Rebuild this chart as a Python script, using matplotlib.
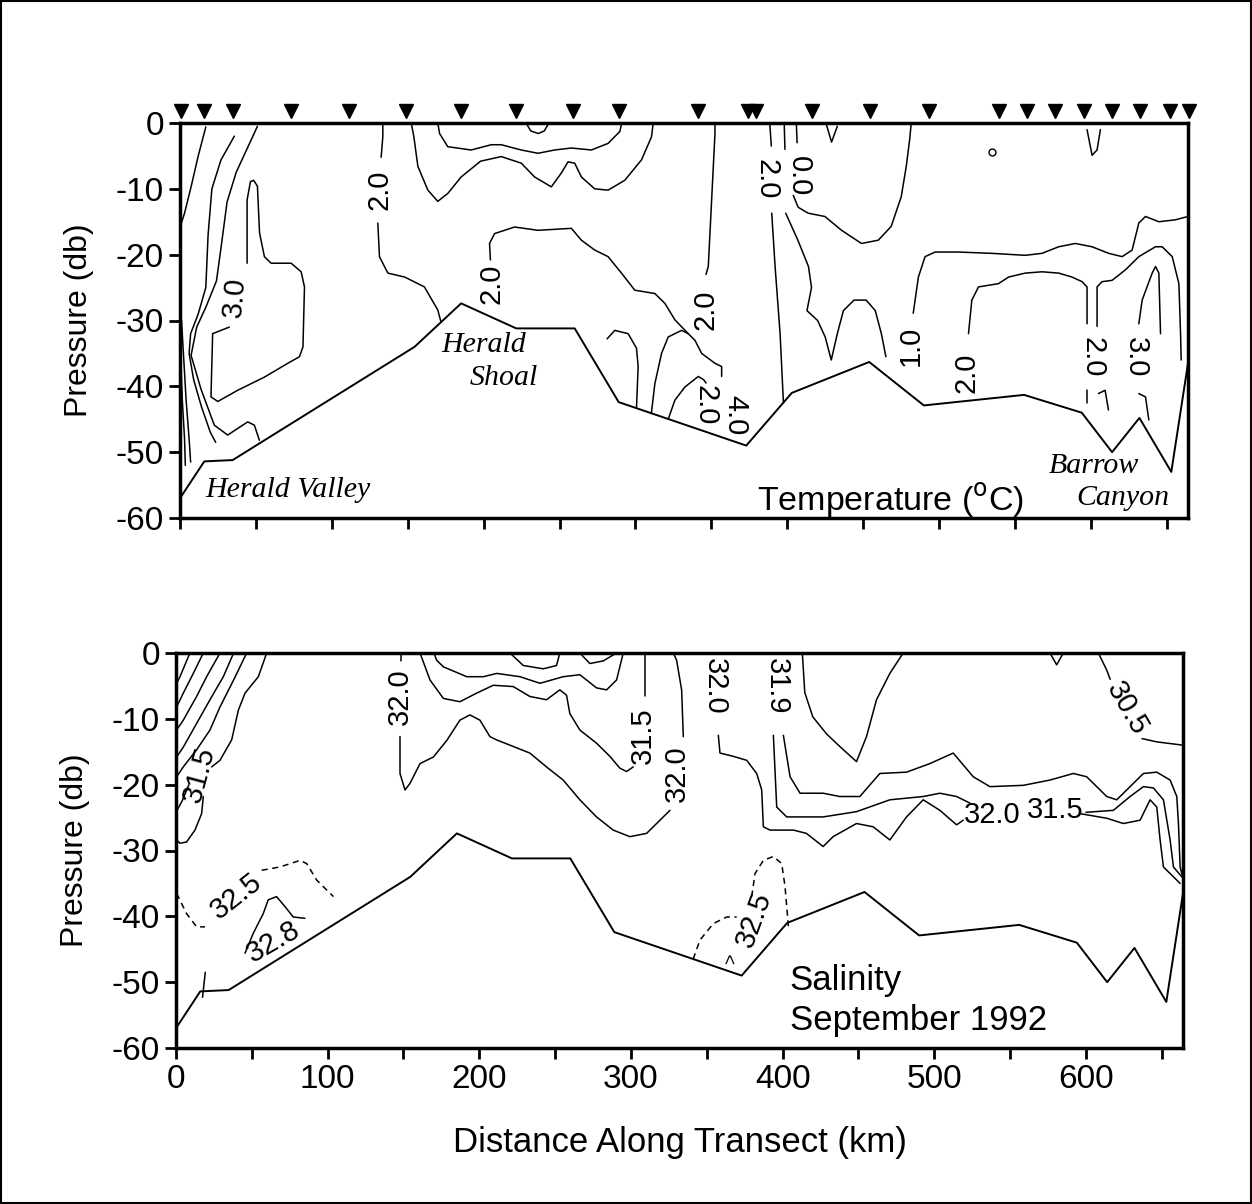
import numpy as np
import matplotlib
matplotlib.use("Agg")
import matplotlib.pyplot as plt
from matplotlib.patches import Rectangle

plt.rcParams['font.family'] = ['Liberation Sans', 'DejaVu Sans']
plt.rcParams['axes.unicode_minus'] = False

# ---- data (distance km, pressure db) ----
stations_km = [0.7, 15.8, 34.9, 73.2, 111.4, 149, 185.2, 221.5, 259, 289.4, 341.5,
               374.4, 379.6, 416, 454.2, 493.1, 539.2, 557.7, 576.1, 595.3, 613.7,
               632.1, 651.9, 664.5]

bath_km = [0, 16, 34.7, 154.5, 185.2, 221.5, 260, 289, 373, 403, 454, 490, 556, 594, 614, 632, 653, 665]
bath_db = [-57, -51.4, -51.2, -34, -27.4, -31.2, -31.2, -42.4, -49, -41, -36.3, -42.9, -41.3, -44, -50, -44.8, -53, -35]

# temperature section
t_left1 = [(17, -0.6), (12, -5), (7.5, -9.5), (3, -13.7), (0.5, -15.5)]
t_left2 = [(35.8, -2), (27, -5.6), (21, -10), (18.5, -17), (17, -25), (12, -29), (7, -32),
           (6, -35), (9, -39), (14, -43), (20, -47), (23.5, -48.5)]
t_left3 = [(51, -0.5), (44, -4), (37, -7.5), (31, -12), (27, -19), (24, -24), (17, -28),
           (11, -31), (7.3, -35.3), (13.8, -40.4), (22.6, -45.9), (31.4, -47.4), (44.6, -45.4),
           (49, -45.9), (52.3, -48.2)]
t_left4 = [(1, -30), (2.5, -36), (4, -42), (6, -48), (7, -51.5)]
t_left5 = [(0.5, -36), (1.5, -42), (3, -48), (3.5, -52)]
t_30 = [(44.2, -21.3), (44.2, -11.7), (46.4, -8.9), (48.5, -8.7), (51, -9.6), (52.4, -16.7),
        (55.6, -20.3), (60, -21.3), (73.2, -21.3), (79.8, -22.6), (82, -24.9), (81, -34),
        (78.7, -35.5), (71, -36.5), (55.6, -38.6), (38, -40.6), (24.9, -42.3), (20.4, -41.6),
        (21.5, -32), (32.5, -31)]
t_20a_top = [(133.6, 0), (133.6, -2.1), (132.5, -5.2)]
t_20a = [(130.3, -15.2), (131.4, -20.3), (136.9, -22.8), (148, -23.4), (161, -24.9),
         (169.8, -28.4), (172, -30.3)]
t_up1 = [(152.3, 0), (154, -2), (156.7, -6.6), (163.3, -10.2), (169.8, -11.9), (176.4, -10.7),
         (185.2, -8.2), (198, -5.8), (211.6, -5.1), (224.8, -6.1), (233.6, -8.2), (244.6, -9.7),
         (251.2, -7.6), (255.6, -5.9), (260, -6.1), (264.4, -8.2), (273.2, -10), (282, -10.2),
         (293, -8.7), (304, -5.6), (310.6, -2.1), (311.7, 0)]
t_up2 = [(169.8, 0), (171, -1.6), (176.4, -3.6), (191.8, -4.1), (205, -3.3), (211.6, -3.3),
         (224.8, -4.1), (235.8, -4.6), (246.8, -4.1), (257.8, -3.8), (271, -4.1), (282, -3.1),
         (289.7, -1.3), (291, 0)]
t_cup = [(228, 0), (231, -1.2), (236, -1.6), (240, -1.2), (243, 0)]
t_20_shoal = [(204.5, -20.8), (203.9, -18.3), (207.2, -16.8), (220.4, -15.8), (235.8, -16.3),
              (257.8, -16), (264.4, -17.8), (273.2, -19.3), (282, -20.3), (290.8, -22.8),
              (299.6, -25.4), (312.8, -25.9), (319.4, -27.4), (326, -29.9), (334.8, -32),
              (339.2, -33), (343.6, -35), (352.4, -36.5), (356.8, -37), (356.8, -38.5)]
t_drop1 = [(281.3, -32.8), (286.4, -31.5), (295.2, -32), (300.7, -34.2), (301.8, -37), (300.7, -43.3)]
t_drop2 = [(310.5, -44.1), (312.8, -39.6), (317.2, -35), (321.6, -32.5), (330.4, -31.5), (334.8, -32)]
t_drop3 = [(321.6, -45), (326, -42.1), (332.6, -40.1), (341.4, -38.5), (345, -39), (346.5, -39.5)]
t_20_vert = [(352.4, 0), (352.4, -1.6), (350.2, -11.7), (348, -21.8), (346.5, -23)]
t_v_top1 = [(388.5, 0), (389.5, -3.5)]
t_v_top2 = [(398, 0), (398.5, -4)]
t_v_top3 = [(406, 0), (406.5, -3)]
t_v_low = [(389.8, -13.7), (392, -21.8), (395.3, -32), (397.5, -42.5)]
t_w = [(399, -13.7), (407, -17.8), (414, -21.8), (416, -25), (413, -28.5), (420, -30),
       (425, -32.5), (429, -36), (433, -32), (437, -28.5), (444, -26.9), (452, -26.9),
       (458, -28.5), (462, -32), (465, -35.5)]
t_loop = [(404, -11), (407.2, -12.8), (413.8, -13.7), (424.8, -14.2), (435.8, -16.3),
          (448.9, -18.3), (460, -17.8), (468.5, -15.7), (475.1, -11.2), (478.4, -6.6),
          (480.6, -2.6), (481.7, 0)]
t_10 = [(483, -28.9), (486.4, -23.4), (490.8, -20.3), (497.4, -19.6), (512.8, -19.6),
        (534.8, -19.8), (556.8, -20.1), (567.8, -19.8), (578.8, -18.8), (589.8, -18.3),
        (600.8, -18.8), (611.8, -19.8), (620.6, -20.3), (627.2, -19.3), (631.6, -15.2),
        (636, -14.2), (644.8, -15), (655.8, -14.7), (664, -14.2)]
t_20_right = [(519.4, -32), (521.6, -26.9), (526, -24.9), (539.2, -24.4), (545.8, -23.4),
              (556.8, -22.8), (567.8, -22.6), (578.8, -22.8), (587.6, -23.4), (594.2, -24.1),
              (597.5, -24.9), (597.5, -30.5)]
t_20_right_low = [(597.5, -40.5), (597.5, -42.5)]
t_20_branch = [(604.1, -30.9), (604.1, -24.9), (607.4, -24.1), (614, -23.9), (622.8, -22.3),
               (631.6, -20.3), (642.6, -18.8), (647, -18.8), (653.6, -20.3), (658, -24.4),
               (659.1, -32), (659.5, -36)]
t_sq1 = [(605, -41.1), (609.4, -40.6), (611.6, -43.6)]
t_30_right = [(631.6, -30.5), (633.8, -26.9), (640.4, -22.8), (642.6, -21.8), (644.8, -22.8), (645.9, -32)]
t_sq2 = [(631.6, -41.1), (636, -41.6), (638.2, -45.1)]
t_vee1 = [(425.5, 0), (429.2, -2.9), (433, -0.5)]
t_vee2 = [(597.5, -1), (600.8, -4.9), (604.1, -4.1), (606.3, -1)]

temp_lines = [t_left1, t_left2, t_left3, t_left4, t_left5, t_30, t_20a_top, t_20a, t_up1, t_up2,
              t_cup, t_20_shoal, t_drop1, t_drop2, t_drop3, t_20_vert, t_v_top1, t_v_top2,
              t_v_top3, t_v_low, t_w, t_loop, t_10, t_20_right, t_20_right_low, t_20_branch,
              t_sq1, t_30_right, t_sq2, t_vee1, t_vee2]

temp_labels = ["3.0", "2.0", "2.0", "2.0", "2.0", "4.0", "2.0", "0.0", "1.0", "2.0", "2.0", "3.0"]
temp_lab_km = [35.8, 131.5, 205, 346, 346, 366, 386.5, 408, 481.5, 518, 601, 629.4]
temp_lab_db = [-26.4, -10.2, -24.4, -28.4, -42.8, -44.4, -8.5, -8, -33.8, -38, -35.5, -35.5]
temp_lab_rot = [85, 90, 90, 90, -90, -90, -90, -90, 90, 90, -90, -90]

# salinity section
s_l1a = [(59.8, 0), (54.3, -3.6), (45.5, -6.1), (41.1, -8.7), (36.7, -13.2), (29, -16.3), (23.5, -17.3)]
s_l1b = [(18, -21.8), (16.9, -24.4), (12.5, -26.9), (7, -28.7), (2.6, -28.9), (0.4, -28.4)]
s_l2 = [(46.6, 0), (38, -4.1), (29, -8.2), (22.4, -11.7), (13.6, -14.7), (4.8, -17.3), (0.4, -18.8)]
s_l3 = [(38, 0), (31.2, -3.6), (22.4, -7.1), (13.6, -10.7), (4.8, -14.3), (0.4, -15.8)]
s_l4 = [(29, 0), (20.2, -3.6), (13.6, -6.6), (4.8, -10.2), (0.4, -11.7)]
s_l5 = [(18, 0), (11.4, -3.1), (4.8, -6.1), (0.4, -8.2)]
s_l6 = [(9.2, 0), (2.6, -3.6), (0.4, -4.6)]
s_l7 = [(0.4, -24), (4, -22.5), (8.5, -20)]
s_325a = [(0.4, -36.5), (7, -39.6), (13.6, -41.6), (19.1, -41.6)]
s_325b = [(56.5, -33), (68.6, -32.5), (81.8, -31.5), (86.2, -32), (92.8, -34.5), (103.8, -37)]
s_328 = [(45.5, -45.6), (50.9, -42.6), (57.5, -39.6), (60.8, -37.5), (66.3, -37), (71.8, -38.5),
         (77.3, -40.1), (85, -40.3)]
s_tick = [(19.3, -48.5), (17.5, -52.3)]
s_320a_top = [(148.5, 0), (148.3, -1.2)]
s_320a = [(147.7, -12.7), (147.7, -18.3), (151, -20.8), (154.3, -19.8), (160.9, -16.8),
          (169.7, -15.8), (178.5, -13.3), (187.2, -10.2), (193.8, -9.4), (200.4, -10.2),
          (207, -12.7), (211.4, -13.2), (222.4, -14.2), (233.3, -15.2), (244.3, -17.3),
          (255.3, -19.3), (266.3, -22.3), (277.3, -24.9), (288.3, -26.9), (299.3, -27.9),
          (310.3, -27.4), (319.1, -25.4), (325.7, -23.9)]
s_320a_up = [(334.5, -12.7), (333.4, -5.6), (330.1, -1.1), (327.9, 0)]
s_315 = [(160.9, 0), (167.5, -4.1), (176.3, -6.9), (187.2, -7.4), (198.2, -6.1), (209.2, -4.9),
         (222.4, -5.1), (233.3, -6.6), (244.3, -7.1), (253.1, -5.6), (257.5, -6.4), (259.7, -9.2),
         (266.3, -11.7), (277.3, -13.7), (286.1, -15.7), (292.7, -17.5), (297.1, -18), (301.5, -17.3)]
s_315_up = [(309.2, -6.6), (309.2, 0)]
s_top1 = [(170, 0), (171.9, -1.1), (176.3, -2.1), (191.7, -3.6), (202.7, -3.6), (211.5, -3.1),
          (226.8, -3.6), (240, -4.6), (255.3, -3.6), (266.3, -3.3), (277.3, -5.3), (283.9, -5.6),
          (290.5, -4.1), (294.9, 0)]
s_cup1 = [(220.2, 0), (229, -1.9), (242.2, -2.4), (250.9, -1.9), (253.1, 0)]
s_cup2 = [(266.3, 0), (272.9, -1.6), (281.7, -1.2), (290.5, 0)]
s_lineC = [(357.6, -12.5), (358.7, -15.2), (367.5, -15.7), (376.3, -16.3), (382.9, -18.3),
           (386.2, -20.8), (387.3, -26.4), (391.7, -26.9), (407.1, -26.9), (415.7, -27.4),
           (426.7, -29.4), (433.3, -27.9), (448.7, -25.9), (459.7, -26.4), (470.7, -28.4),
           (481.7, -24.9), (492.7, -22.3), (503.7, -23.9), (514.7, -26.1), (519.1, -25.4)]
s_lineC2 = [(596.1, -24.4), (613.7, -25.1), (624.7, -25.9), (635.7, -25.4), (642.3, -22.3),
            (646.7, -23.4), (648.9, -28.4), (651.1, -32.5), (662.1, -35)]
s_lineB = [(393.9, -12.5), (396.1, -23.4), (402.7, -24.9), (426.7, -24.9), (448.7, -24.1),
           (470.7, -22.3), (492.7, -21.8), (503.7, -21.3), (514.7, -21.8), (523.5, -22.8)]
s_lineB2 = [(600, -24.2), (618.1, -23.9), (629.1, -21.8), (637.9, -20.3), (644.5, -20.5),
            (651.1, -22.3), (655.5, -28.4), (657.7, -32.5), (663.2, -34)]
s_lineA = [(400.5, -12.5), (404.9, -18.8), (411.5, -21.3), (426.7, -21.3), (437.7, -21.8),
           (450.9, -21.8), (464.1, -18.3), (481.7, -18.1), (497.1, -16.8), (512.5, -15.2),
           (525.7, -18.8), (536.7, -20.3), (558.7, -20.1), (576.3, -19.3), (591.7, -18.3),
           (600.5, -18.8), (613.7, -21.8), (620.3, -22.3), (629.1, -20.3), (637.9, -18.3),
           (646.7, -18.1), (655.5, -19.3), (659.9, -21.8), (661, -25.9), (662.1, -32.5), (664.3, -34.5)]
s_vee = [(413, 0), (414.6, -6), (419.9, -9.7), (429, -12.3), (437.7, -14.2), (448.7, -16.5),
         (455.3, -12.7), (461.9, -7.1), (470.7, -3.1), (479.5, 0)]
s_305a = [(608.2, 0), (613.7, -2.6), (616, -4)]
s_305b = [(637, -13), (646.7, -13.5), (664, -14)]
s_smallv = [(576.3, 0), (580.7, -1.8), (585.1, 0)]
s_325c = [(341, -46.5), (345.5, -43.6), (354.3, -41.1), (363.1, -40.1), (369.7, -40.1)]
s_325d = [(379.6, -37), (381.8, -33.5), (387.3, -31.5), (393.9, -30.9), (399.4, -32),
          (401.6, -35.5), (403.8, -41.5)]

sal_solid = [s_l1a, s_l1b, s_l2, s_l3, s_l4, s_l5, s_l6, s_l7, s_328, s_tick, s_320a_top, s_320a,
             s_320a_up, s_315, s_315_up, s_top1, s_cup1, s_cup2, s_lineC, s_lineC2, s_lineB,
             s_lineB2, s_lineA, s_vee, s_305a, s_305b, s_smallv]
sal_dashed = [s_325a, s_325b, s_325c, s_325d]

sal_labels = ["31.5", "32.5", "32.8", "32.0", "31.5", "32.0", "32.0", "31.9", "30.5", "32.0", "31.5", "32.5", ">"]
sal_lab_km = [15.8, 40, 64.2, 147.7, 308.1, 330.1, 355.4, 396, 626.8, 538, 580, 381, 366.3]
sal_lab_db = [-18.5, -37, -43.9, -6.6, -12.5, -18.3, -5.1, -5.1, -8.4, -24.6, -23.8, -40.5, -46.4]
sal_lab_rot = [75, 38, 30, 90, 90, 90, -90, -90, -60, 0, 0, 70, 90]

# ---- figure ----
fig = plt.figure(figsize=(12.52, 12.04), dpi=100)
ax1 = fig.add_axes([180 / 1252, 1 - 518 / 1204, 1008 / 1252, 395 / 1204])
ax2 = fig.add_axes([176 / 1252, 1 - 1048 / 1204, 1007 / 1252, 395 / 1204])

fig.patches.append(Rectangle((0.001, 0.001), 0.998, 0.998, transform=fig.transFigure,
                             fill=False, lw=1.5, ec='k'))


def draw(ax, pts, **kw):
    x, y = zip(*pts)
    ax.plot(x, y, color='k', lw=1.1, solid_capstyle='round', **kw)


for ax in (ax1, ax2):
    ax.set_xlim(0, 664)
    ax.set_ylim(-60, 0)
    ax.set_yticks(np.arange(-60, 1, 10))
    ax.set_xticks(np.arange(0, 601, 100))
    ax.set_xticks(np.arange(50, 651, 100), minor=True)
    ax.tick_params(axis='both', which='both', direction='out', length=8, width=2,
                   labelsize=24, top=False, right=False)
    for s in ax.spines.values():
        s.set_linewidth(2.5)
    ax.plot(bath_km, bath_db, color='k', lw=1.4)
    ax.set_ylabel('Pressure (db)', fontsize=23, labelpad=16)

ax1.tick_params(axis='x', which='both', labelbottom=False)

# stations
ax1.plot(stations_km, [1.8] * len(stations_km), 'v', color='k', ms=10, clip_on=False)

for ln in temp_lines:
    draw(ax1, ln)
ax1.plot([534.8], [-4.4], 'o', mfc='none', mec='k', ms=5, mew=1)

for t, x, y, r in zip(temp_labels, temp_lab_km, temp_lab_db, temp_lab_rot):
    ax1.text(x, y, t, fontsize=21, rotation=r, ha='center', va='center', rotation_mode='anchor')

serif = dict(family=['Liberation Serif', 'DejaVu Serif'], style='italic', fontsize=21.5)
ax1.text(17, -55.8, 'Herald Valley', ha='left', va='center', **serif)
ax1.text(200, -33.7, 'Herald', ha='center', va='center', **serif)
ax1.text(213, -38.8, 'Shoal', ha='center', va='center', **serif)
ax1.text(602, -52.1, 'Barrow', ha='center', va='center', **serif)
ax1.text(621, -57, 'Canyon', ha='center', va='center', **serif)
ax1.text(380, -57.3, r'Temperature ($^{\mathrm{o}}$C)', ha='left', va='center', fontsize=24.5)

for ln in sal_solid:
    draw(ax2, ln)
for ln in sal_dashed:
    draw(ax2, ln, ls=(0, (4, 3)))

for t, x, y, r in zip(sal_labels, sal_lab_km, sal_lab_db, sal_lab_rot):
    fs = 13 if t == '>' else 21
    ax2.text(x, y, t, fontsize=fs, rotation=r, ha='center', va='center', rotation_mode='anchor')

ax2.text(404.7, -49.7, 'Salinity', ha='left', va='center', fontsize=25)
ax2.text(404.7, -55.8, 'September 1992', ha='left', va='center', fontsize=25)
ax2.set_xlabel('Distance Along Transect (km)', fontsize=25, labelpad=22)

fig.savefig('out.png', dpi=100)
